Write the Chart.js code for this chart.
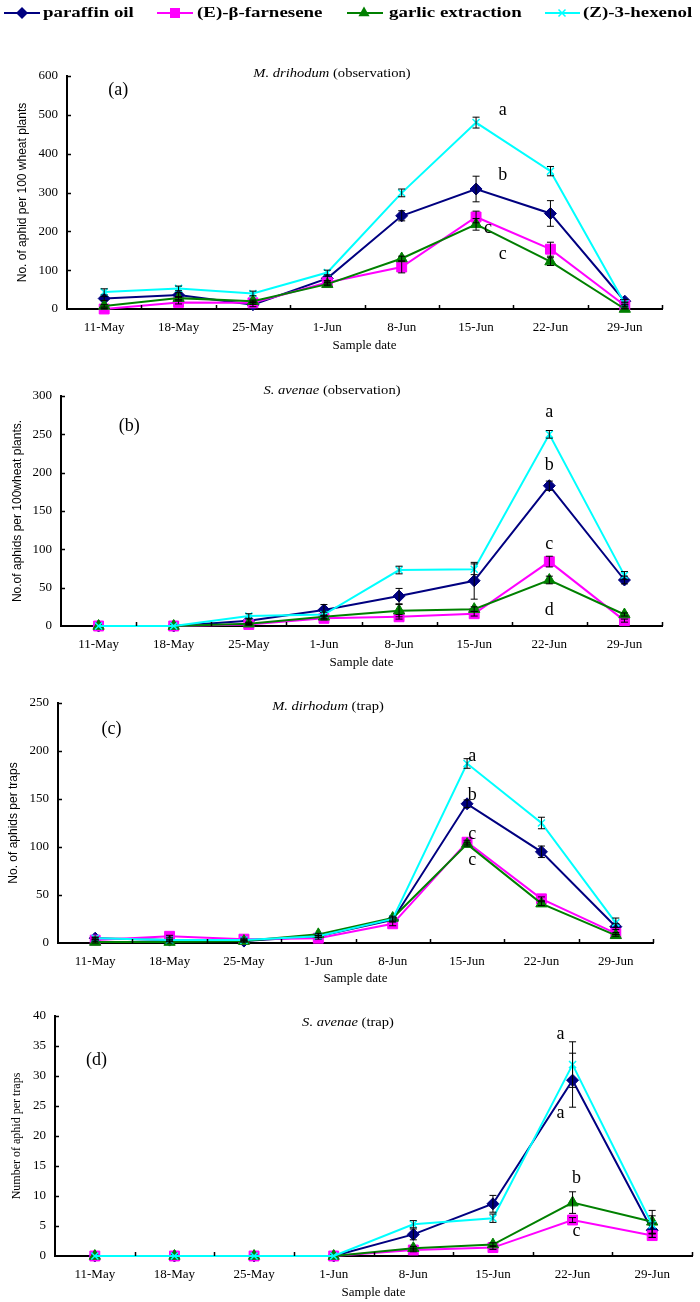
<!DOCTYPE html>
<html>
<head>
<meta charset="utf-8">
<script src="https://cdn.jsdelivr.net/npm/chart.js@4.4.0/dist/chart.umd.min.js"></script>
<style>
  body { margin: 0; background: #fff; }
  #wrap { position: relative; width: 700px; height: 1302px; }
  canvas { position: absolute; left: 0; }
</style>
</head>
<body>
<div id="wrap">
  <canvas id="cA" width="700" height="354" style="top:0px;width:700px;height:354px"></canvas>
  <canvas id="cB" width="700" height="316" style="top:354px;width:700px;height:316px"></canvas>
  <canvas id="cC" width="700" height="316" style="top:670px;width:700px;height:316px"></canvas>
  <canvas id="cD" width="700" height="316" style="top:986px;width:700px;height:316px"></canvas>
</div>
<script>
var dates = ['11-May', '18-May', '25-May', '1-Jun', '8-Jun', '15-Jun', '22-Jun', '29-Jun'];
var seriesNames = ['paraffin oil', '(E)-\u03B2-farnesene', 'garlic extraction', '(Z)-3-hexenol'];

// (a) M. drihodum (observation)
var aParaffin = [27, 36, 11, 79, 240, 309, 246, 20];
var aParaffinErr = [5, 6, 5, 6, 13, 33, 33, 4];
var aFarnesene = [0, 17, 16, 68, 108, 237, 154, 9];
var aFarneseneErr = [2, 4, 4, 4, 15, 15, 18, 3];
var aGarlic = [8, 28, 20, 64, 130, 218, 122, 0];
var aGarlicErr = [3, 4, 3, 4, 6, 15, 10, 2];
var aHexenol = [44, 53, 40, 94, 299, 480, 355, 14];
var aHexenolErr = [8, 6, 6, 6, 10, 14, 12, 4];
var aLetters = [['a', 5.36, 512], ['b', 5.36, 345], ['c', 5.16, 209], ['c', 5.36, 140]];

// (b) S. avenae (observation)
var bParaffin = [0, 0, 7, 21, 39, 59, 183, 60];
var bParaffinErr = [0, 0, 2, 7, 10, 24, 6, 5];
var bFarnesene = [0, 0, 2, 10, 12, 16, 84, 7];
var bFarneseneErr = [0, 0, 1, 2, 3, 3, 7, 2];
var bGarlic = [0, 0, 3, 12, 20, 22, 60, 15];
var bGarlicErr = [0, 0, 1, 2, 8, 3, 5, 2];
var bHexenol = [0, 0, 13, 15, 73, 74, 250, 66];
var bHexenolErr = [0, 0, 3, 3, 5, 7, 5, 5];
var bLetters = [['a', 6, 279], ['b', 6, 210], ['c', 6, 107], ['d', 6, 20]];

// (c) M. dirhodum (trap)
var cParaffin = [5, 3, 2, 7, 24, 145, 95, 17];
var cParaffinErr = [1, 1, 1, 1, 2, 4, 6, 3];
var cFarnesene = [3, 7, 4, 5, 20, 105, 46, 10];
var cFarneseneErr = [1, 1, 1, 1, 2, 2, 2, 1];
var cGarlic = [1, 1, 2, 9, 26, 103, 41, 8];
var cGarlicErr = [1, 1, 1, 1, 2, 2, 2, 1];
var cHexenol = [5, 3, 3, 7, 25, 187, 125, 21];
var cHexenolErr = [1, 1, 1, 1, 2, 5, 6, 5];
var cLetters = [['a', 5.07, 194], ['b', 5.07, 154], ['c', 5.07, 113], ['c', 5.07, 86]];

// (d) S. avenae (trap)
var dParaffin = [0, 0, 0, 0, 3.6, 8.7, 29.3, 4.3];
var dParaffinErr = [0, 0, 0, 0, 0.9, 1.4, 4.5, 1.2];
var dFarnesene = [0, 0, 0, 0, 1.0, 1.4, 6.0, 3.4];
var dFarneseneErr = [0, 0, 0, 0, 0.3, 0.3, 0.4, 0.3];
var dGarlic = [0, 0, 0, 0, 1.3, 1.9, 8.9, 5.7];
var dGarlicErr = [0, 0, 0, 0, 0.3, 0.3, 1.8, 1.9];
var dHexenol = [0, 0, 0, 0, 5.3, 6.3, 31.9, 5.2];
var dHexenolErr = [0, 0, 0, 0, 0.6, 0.7, 3.8, 1.5];
var dLetters = [['a', 5.85, 37], ['a', 5.85, 23.8], ['b', 6.05, 12.9], ['c', 6.05, 4.2]];

var colors = ['#000080', '#ff00ff', '#008000', '#00ffff'];
var styles = ['rectRot', 'rect', 'triangle', 'crossRot'];
var radii = [6, 7, 6.5, 5];
var SERIF = "'Liberation Serif', 'Times New Roman', serif";
var SANS = "'Liberation Sans', Arial, sans-serif";

function marker(ctx, style, x, y, color) {
  ctx.save();
  ctx.fillStyle = color; ctx.strokeStyle = color;
  ctx.beginPath();
  if (style === 'rectRot') {
    ctx.moveTo(x, y - 6); ctx.lineTo(x + 6, y); ctx.lineTo(x, y + 6); ctx.lineTo(x - 6, y); ctx.closePath(); ctx.fill();
  } else if (style === 'rect') {
    ctx.rect(x - 5, y - 5, 10, 10); ctx.fill();
  } else if (style === 'triangle') {
    ctx.moveTo(x, y - 6.5); ctx.lineTo(x + 5.6, y + 3.3); ctx.lineTo(x - 5.6, y + 3.3); ctx.closePath(); ctx.fill();
  } else {
    ctx.lineWidth = 1.5;
    ctx.moveTo(x - 3.5, y - 3.5); ctx.lineTo(x + 3.5, y + 3.5);
    ctx.moveTo(x + 3.5, y - 3.5); ctx.lineTo(x - 3.5, y + 3.5); ctx.stroke();
  }
  ctx.restore();
}

function stretchText(ctx, parts, cx, cy, sx) {
  var total = 0;
  parts.forEach(function(p) { ctx.font = p[1]; total += ctx.measureText(p[0]).width; });
  ctx.save();
  ctx.translate(cx - total * sx / 2, cy);
  ctx.scale(sx, 1);
  ctx.fillStyle = '#000';
  ctx.textAlign = 'left';
  ctx.textBaseline = 'middle';
  var off = 0;
  parts.forEach(function(p) { ctx.font = p[1]; ctx.fillText(p[0], off, 0); off += ctx.measureText(p[0]).width; });
  ctx.restore();
}

function makeDecor(p) {
  return {
    id: 'decor',
    afterDatasetsDraw: function(chart) {
      var ctx = chart.ctx, xs = chart.scales.x, ys = chart.scales.y;
      ctx.save();
      ctx.strokeStyle = '#000';
      ctx.lineWidth = 1;
      chart.data.datasets.forEach(function(ds) {
        ds.errors.forEach(function(e, i) {
          if (!e) return;
          var px = xs.getPixelForValue(i);
          var top = ys.getPixelForValue(ds.data[i] + e);
          var bot = ys.getPixelForValue(Math.max(ds.data[i] - e, 0));
          ctx.beginPath();
          ctx.moveTo(px, top); ctx.lineTo(px, bot);
          ctx.moveTo(px - 3.5, top); ctx.lineTo(px + 3.5, top);
          ctx.moveTo(px - 3.5, bot); ctx.lineTo(px + 3.5, bot);
          ctx.stroke();
        });
      });
      ctx.restore();
    },
    afterDraw: function(chart) {
      var ctx = chart.ctx, xs = chart.scales.x, ys = chart.scales.y, ca = chart.chartArea;
      // inner tick marks
      ctx.save();
      ctx.strokeStyle = '#000';
      ctx.lineWidth = 1.5;
      ctx.beginPath();
      for (var i = 1; i <= dates.length; i++) {
        var tx = Math.round(xs.getPixelForValue(i - 0.5)) + 0.5;
        ctx.moveTo(tx, ca.bottom); ctx.lineTo(tx, ca.bottom - 4);
      }
      ys.ticks.forEach(function(t) {
        if (t.value === 0) return;
        var ty = Math.round(ys.getPixelForValue(t.value)) + 0.5;
        ctx.moveTo(ca.left, ty); ctx.lineTo(ca.left + 4, ty);
      });
      ctx.stroke();
      ctx.restore();

      // significance letters and panel tag
      ctx.save();
      ctx.fillStyle = '#000';
      ctx.font = '18px ' + SERIF;
      ctx.textAlign = 'center';
      ctx.textBaseline = 'middle';
      p.letters.forEach(function(l) {
        ctx.fillText(l[0], xs.getPixelForValue(l[1]), ys.getPixelForValue(l[2]));
      });
      ctx.fillText(p.tag[0], xs.getPixelForValue(p.tag[1]), ys.getPixelForValue(p.tag[2]));
      ctx.restore();

      // panel title: italic species + plain note
      stretchText(ctx, [[p.species, 'italic 13px ' + SERIF], [' ' + p.note, '13px ' + SERIF]], p.titleX, p.titleY, 1.12);

      if (p.legend) {
        var items = [[4, 40, 22, 43], [157, 193, 175, 197], [347, 383, 364, 389], [545, 580, 562, 583]];
        items.forEach(function(it, k) {
          ctx.save();
          ctx.strokeStyle = colors[k];
          ctx.lineWidth = 2;
          ctx.beginPath(); ctx.moveTo(it[0], 13); ctx.lineTo(it[1], 13); ctx.stroke();
          ctx.restore();
          marker(ctx, styles[k], it[2], 13, colors[k]);
          ctx.save();
          ctx.font = 'bold 14px ' + SERIF;
          ctx.fillStyle = '#000';
          ctx.textBaseline = 'middle';
          ctx.translate(it[3], 13);
          ctx.scale(1.35, 1);
          ctx.fillText(seriesNames[k], 0, 0);
          ctx.restore();
        });
      }
    }
  };
}

function makePanel(id, p) {
  var series = [
    [p.values[0], p.errors[0]], [p.values[1], p.errors[1]],
    [p.values[2], p.errors[2]], [p.values[3], p.errors[3]]
  ];
  var datasets = series.map(function(s, k) {
    return {
      label: seriesNames[k],
      data: s[0],
      errors: s[1],
      borderColor: colors[k],
      backgroundColor: colors[k],
      pointBackgroundColor: colors[k],
      pointBorderColor: colors[k],
      pointStyle: styles[k],
      pointRadius: radii[k],
      pointBorderWidth: k === 3 ? 1.5 : 1,
      borderWidth: 2,
      tension: 0,
      clip: false,
      order: 3 - k
    };
  });
  var canvas = document.getElementById(id);
  new Chart(canvas, {
    type: 'line',
    data: { labels: dates, datasets: datasets },
    options: {
      responsive: false,
      animation: false,
      events: [],
      layout: { padding: { top: p.padTop, right: p.padRight, bottom: p.padBottom, left: 0 } },
      plugins: { legend: { display: false }, tooltip: { enabled: false } },
      scales: {
        x: {
          type: 'category',
          offset: true,
          grid: { display: false, drawTicks: false },
          border: { display: true, color: '#000', width: 2 },
          ticks: { color: '#000', font: { family: SERIF, size: 13 }, padding: 11, maxRotation: 0, autoSkip: false },
          title: { display: true, text: 'Sample date', color: '#000', font: { family: SERIF, size: 13 }, padding: 0 },
          afterFit: function(s) { s.height = p.xHeight; }
        },
        y: {
          min: 0,
          max: p.yMax,
          grid: { display: false, drawTicks: false },
          border: { display: true, color: '#000', width: 2 },
          ticks: { stepSize: p.yStep, color: '#000', font: { family: SERIF, size: 13 }, padding: 9 },
          title: { display: true, text: p.yTitle, color: '#000', font: { family: p.yFont, size: 12 }, padding: { top: p.yTitlePad, bottom: 0 } },
          afterFit: function(s) { s.width = p.yWidth; }
        }
      }
    },
    plugins: [makeDecor(p)]
  });
}

makePanel('cA', {
  values: [aParaffin, aFarnesene, aGarlic, aHexenol],
  errors: [aParaffinErr, aFarneseneErr, aGarlicErr, aHexenolErr],
  letters: aLetters, tag: ['(a)', 0.19, 564],
  species: 'M. drihodum', note: '(observation)', titleX: 332, titleY: 74,
  yMax: 600, yStep: 100, yTitle: 'No. of aphid per 100 wheat plants', yFont: SANS, yTitlePad: 15,
  yWidth: 67, padTop: 76, padRight: 38, padBottom: 1, xHeight: 44, legend: true
});
makePanel('cB', {
  values: [bParaffin, bFarnesene, bGarlic, bHexenol],
  errors: [bParaffinErr, bFarneseneErr, bGarlicErr, bHexenolErr],
  letters: bLetters, tag: ['(b)', 0.41, 261],
  species: 'S. avenae', note: '(observation)', titleX: 332, titleY: 37,
  yMax: 300, yStep: 50, yTitle: 'No.of aphids per 100wheat plants.', yFont: SANS, yTitlePad: 10,
  yWidth: 61, padTop: 42, padRight: 38, padBottom: 0, xHeight: 44
});
makePanel('cC', {
  values: [cParaffin, cFarnesene, cGarlic, cHexenol],
  errors: [cParaffinErr, cFarneseneErr, cGarlicErr, cHexenolErr],
  letters: cLetters, tag: ['(c)', 0.22, 223],
  species: 'M. dirhodum', note: '(trap)', titleX: 328, titleY: 37,
  yMax: 250, yStep: 50, yTitle: 'No. of aphids per traps', yFont: SANS, yTitlePad: 6,
  yWidth: 58, padTop: 33, padRight: 47, padBottom: 0, xHeight: 43
});
makePanel('cD', {
  values: [dParaffin, dFarnesene, dGarlic, dHexenol],
  errors: [dParaffinErr, dFarneseneErr, dGarlicErr, dHexenolErr],
  letters: dLetters, tag: ['(d)', 0.02, 32.7],
  species: 'S. avenae', note: '(trap)', titleX: 348, titleY: 37,
  yMax: 40, yStep: 5, yTitle: 'Number of aphid per traps', yFont: SERIF, yTitlePad: 10,
  yWidth: 55, padTop: 30, padRight: 4, padBottom: 2, xHeight: 44
});
</script>
</body>
</html>
